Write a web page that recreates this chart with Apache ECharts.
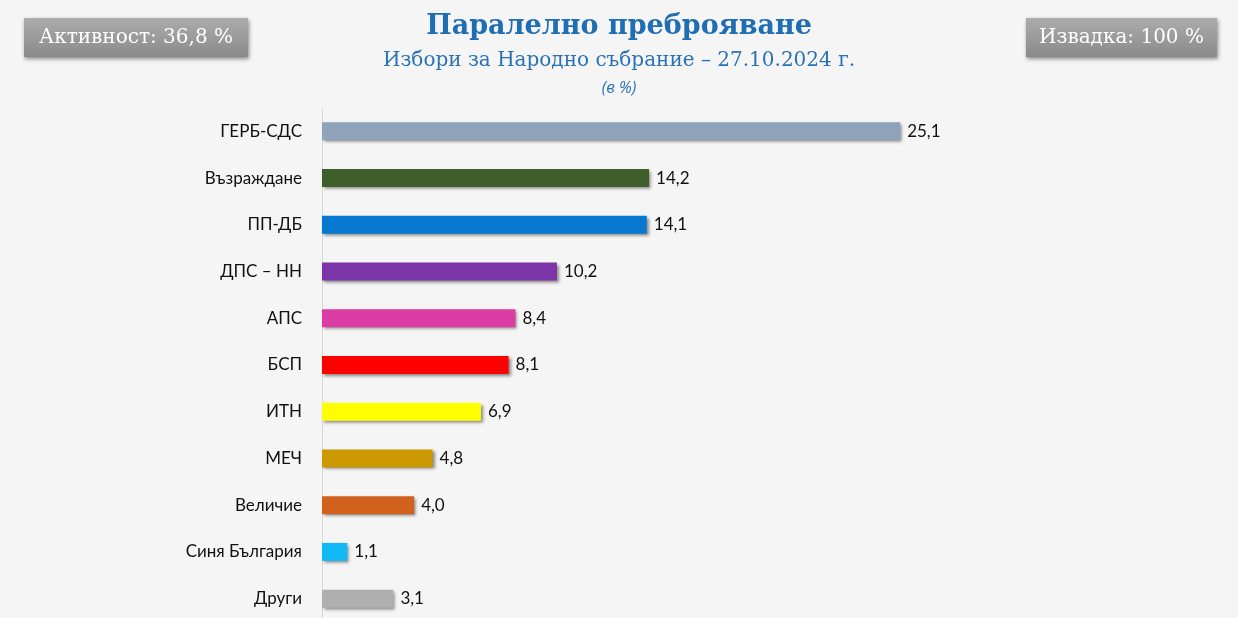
<!DOCTYPE html>
<html>
<head>
<meta charset="utf-8">
<script src="https://cdn.jsdelivr.net/npm/echarts@6/dist/echarts.min.js"></script>
<style>
  html, body { margin: 0; padding: 0; background: #f5f5f5; overflow: hidden; }
  #main { width: 1238px; height: 630px; }
</style>
</head>
<body>
<div id="main"></div>
<script>
// данни
var parties = ['ГЕРБ-СДС', 'Възраждане', 'ПП-ДБ', 'ДПС – НН', 'АПС', 'БСП', 'ИТН', 'МЕЧ', 'Величие', 'Синя България', 'Други'];
var votes = [25.1, 14.2, 14.1, 10.2, 8.4, 8.1, 6.9, 4.8, 4.0, 1.1, 3.1];
var partyColors = ['#8ea2ba', '#3f5f2a', '#0778cf', '#7b35a8', '#db3da4', '#ff0000', '#ffff00', '#cc9900', '#d0621e', '#13b9f5', '#afafaf'];

// контейнерът е малко по-висок от прозореца, последната лента е почти на ръба
var myChart = echarts.init(document.getElementById('main'));

// сиво каре с надпис
function grayBox(x, w, text) {
    return [{
        type: 'rect',
        shape: { x: x, y: 18, width: w, height: 39 },
        style: {
            fill: new echarts.graphic.LinearGradient(0, 0, 0, 1, [
                { offset: 0, color: '#acacac' },
                { offset: 1, color: '#8a8a8a' }
            ]),
            shadowColor: 'rgba(0,0,0,0.45)', shadowBlur: 4, shadowOffsetX: 1, shadowOffsetY: 2
        }
    }, {
        type: 'text',
        x: x + w / 2, y: 38,
        style: {
            text: text, fill: '#ffffff', font: '20px "DejaVu Serif", serif',
            align: 'center', verticalAlign: 'middle'
        }
    }];
}

var option = {
    backgroundColor: '#f5f5f5',
    textStyle: { fontFamily: 'Lato, "Open Sans", sans-serif' },
    title: [{
        text: 'Паралелно преброяване',
        left: 'center', top: 8,
        textStyle: { fontFamily: '"DejaVu Serif", serif', fontSize: 27, fontWeight: 'bold', color: '#1f6db2' }
    }, {
        text: 'Избори за Народно събрание – 27.10.2024 г.',
        left: 'center', top: 46,
        textStyle: { fontFamily: '"DejaVu Serif", serif', fontSize: 20, fontWeight: 'normal', color: '#2a72b5' }
    }, {
        text: '(в %)',
        left: 'center', top: 75,
        textStyle: { fontFamily: '"Open Sans", sans-serif', fontSize: 16, fontStyle: 'italic', fontWeight: 'normal', color: '#2a72b5' }
    }],
    graphic: grayBox(24, 224, 'Активност: 36,8 %').concat(grayBox(1026, 191, 'Извадка: 100 %')),
    grid: { left: 322, top: 108, width: 691, height: 514 },
    xAxis: {
        type: 'value', min: 0, max: 30,
        show: false
    },
    yAxis: {
        type: 'category',
        data: parties,
        inverse: true,
        axisLine: { show: true, lineStyle: { color: '#d9d9d9', width: 1 } },
        axisTick: { show: false },
        axisLabel: { color: '#111111', fontSize: 17, margin: 20, fontFamily: 'Lato, "Open Sans", sans-serif' }
    },
    series: [{
        type: 'bar',
        data: votes.map(function (v, i) {
            return { value: v, itemStyle: { color: partyColors[i] } };
        }),
        barWidth: 18,
        itemStyle: {
            shadowColor: 'rgba(0,0,0,0.45)', shadowBlur: 3, shadowOffsetX: 2, shadowOffsetY: 2
        },
        label: {
            show: true, position: 'right', distance: 7,
            color: '#111111', fontSize: 17, fontFamily: 'Lato, "Open Sans", sans-serif',
            formatter: function (p) { return p.value.toFixed(1).replace('.', ','); }
        }
    }]
};
myChart.setOption(option);
</script>
</body>
</html>
